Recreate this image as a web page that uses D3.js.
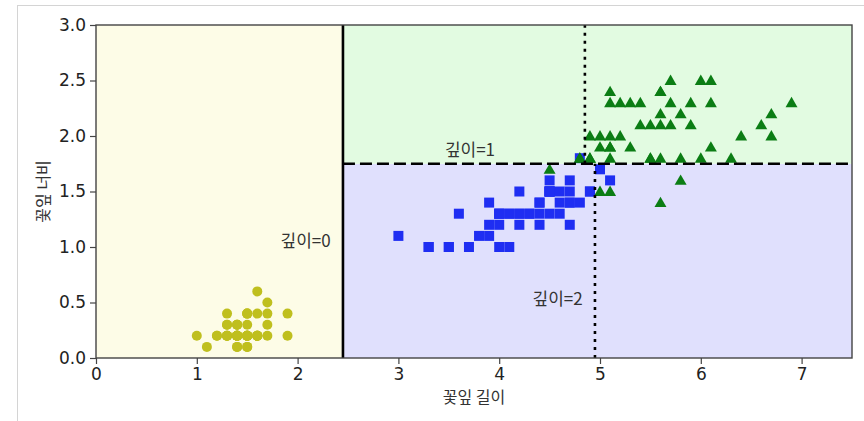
<!DOCTYPE html>
<html>
<head>
<meta charset="utf-8">
<script src="https://cdn.jsdelivr.net/npm/d3@7"></script>
<style>
  html, body { margin: 0; padding: 0; background: #fff; }
  svg { display: block; }
</style>
</head>
<body>
<svg id="chart" width="864" height="421"></svg>
<script>
// Iris petal measurements (length, width) per species
const setosaLength = [1.4,1.4,1.3,1.5,1.4,1.7,1.4,1.5,1.4,1.5,1.5,1.6,1.4,1.1,1.2,1.5,1.3,1.4,1.7,1.5,1.7,1.5,1.0,1.7,1.9,1.6,1.6,1.5,1.4,1.6,1.6,1.5,1.5,1.4,1.5,1.2,1.3,1.4,1.3,1.5,1.3,1.3,1.3,1.6,1.9,1.4,1.6,1.4,1.5,1.4];
const setosaWidth  = [0.2,0.2,0.2,0.2,0.2,0.4,0.3,0.2,0.2,0.1,0.2,0.2,0.1,0.1,0.2,0.4,0.4,0.3,0.3,0.3,0.2,0.4,0.2,0.5,0.2,0.2,0.4,0.2,0.2,0.2,0.2,0.4,0.1,0.2,0.2,0.2,0.2,0.1,0.2,0.2,0.3,0.3,0.2,0.6,0.4,0.3,0.2,0.2,0.2,0.2];
const versicolorLength = [4.7,4.5,4.9,4.0,4.6,4.5,4.7,3.3,4.6,3.9,3.5,4.2,4.0,4.7,3.6,4.4,4.5,4.1,4.5,3.9,4.8,4.0,4.9,4.7,4.3,4.4,4.8,5.0,4.5,3.5,3.8,3.7,3.9,5.1,4.5,4.5,4.7,4.4,4.1,4.0,4.4,4.6,4.0,3.3,4.2,4.2,4.2,4.3,3.0,4.1];
const versicolorWidth  = [1.4,1.5,1.5,1.3,1.5,1.3,1.6,1.0,1.3,1.4,1.0,1.5,1.0,1.4,1.3,1.4,1.5,1.0,1.5,1.1,1.8,1.3,1.5,1.2,1.3,1.4,1.4,1.7,1.5,1.0,1.1,1.0,1.2,1.6,1.5,1.6,1.5,1.3,1.3,1.3,1.2,1.4,1.2,1.0,1.3,1.2,1.3,1.3,1.1,1.3];
const virginicaLength = [6.0,5.1,5.9,5.6,5.8,6.6,4.5,6.3,5.8,6.1,5.1,5.3,5.5,5.0,5.1,5.3,5.5,6.7,6.9,5.0,5.7,4.9,6.7,4.9,5.7,6.0,4.8,4.9,5.6,5.8,6.1,6.4,5.6,5.1,5.6,6.1,5.6,5.5,4.8,5.4,5.6,5.1,5.1,5.9,5.7,5.2,5.0,5.2,5.4,5.1];
const virginicaWidth  = [2.5,1.9,2.1,1.8,2.2,2.1,1.7,1.8,1.8,2.5,2.0,1.9,2.1,2.0,2.4,2.3,1.8,2.2,2.3,1.5,2.3,2.0,2.0,1.8,2.1,1.8,1.8,1.8,2.1,1.6,1.9,2.0,2.2,1.5,1.4,2.3,2.4,1.8,1.8,2.1,2.4,2.3,1.9,2.3,2.5,2.3,1.9,2.0,2.3,1.8];

// Decision tree split thresholds
const rootSplitLength = 2.45;   // depth 0
const leftSplitWidth = 1.75;    // depth 1
const lowSplitLength = 4.95;    // depth 2 (below 1.75)
const highSplitLength = 4.85;   // depth 2 (above 1.75)

const xTicks = [0,1,2,3,4,5,6,7];
const yTicks = [0,0.5,1.0,1.5,2.0,2.5,3.0];
const xDomain = [0, 7.5];
const yDomain = [0, 3];

const depthLabels = [
  {text: "깊이=0", x: 2.08, y: 1.0},
  {text: "깊이=1", x: 3.71, y: 1.82},
  {text: "깊이=2", x: 4.58, y: 0.48}
];

const svg = d3.select("#chart");
const plot = {left: 96, right: 852, top: 25, bottom: 358};
const x = d3.scaleLinear().domain(xDomain).range([plot.left, plot.right]);
const y = d3.scaleLinear().domain(yDomain).range([plot.bottom, plot.top]);

// page frame lines
svg.append("line").attr("x1", 17).attr("x2", 864).attr("y1", 5.5).attr("y2", 5.5)
  .attr("stroke", "#d4d4d4").attr("stroke-width", 1);
svg.append("line").attr("x1", 17.5).attr("x2", 17.5).attr("y1", 5).attr("y2", 421)
  .attr("stroke", "#d4d4d4").attr("stroke-width", 1);

// predicted class regions
const regions = [
  {x0: 0, x1: rootSplitLength, y0: 0, y1: 3, fill: "#fdfce7"},
  {x0: rootSplitLength, x1: 7.5, y0: 0, y1: leftSplitWidth, fill: "#e0e0fd"},
  {x0: rootSplitLength, x1: 7.5, y0: leftSplitWidth, y1: 3, fill: "#e2fbe1"}
];
svg.append("g").selectAll("rect").data(regions).join("rect")
  .attr("x", d => x(d.x0)).attr("y", d => y(d.y1))
  .attr("width", d => x(d.x1) - x(d.x0)).attr("height", d => y(d.y0) - y(d.y1))
  .attr("fill", d => d.fill);

// scatter points
const zip = (a, b) => a.map((v, i) => [v, b[i]]);
const setosa = zip(setosaLength, setosaWidth);
const versicolor = zip(versicolorLength, versicolorWidth);
const virginica = zip(virginicaLength, virginicaWidth);

svg.append("g").selectAll("circle").data(setosa).join("circle")
  .attr("cx", d => x(d[0])).attr("cy", d => y(d[1])).attr("r", 5)
  .attr("fill", "#bfbf1e");

const sq = 10;
svg.append("g").selectAll("rect").data(versicolor).join("rect")
  .attr("x", d => x(d[0]) - sq / 2).attr("y", d => y(d[1]) - sq / 2)
  .attr("width", sq).attr("height", sq)
  .attr("fill", "#1f2ef2");

const tri = d3.symbol().type(d3.symbolTriangle).size(62);
svg.append("g").selectAll("path").data(virginica).join("path")
  .attr("transform", d => `translate(${x(d[0])},${y(d[1]) + 1})`)
  .attr("d", tri)
  .attr("fill", "#0b7d14");

// decision boundaries
const lines = svg.append("g").attr("fill", "none").attr("stroke", "#000").attr("stroke-width", 2.6);
lines.append("line")
  .attr("x1", x(rootSplitLength)).attr("x2", x(rootSplitLength))
  .attr("y1", y(0)).attr("y2", y(3));
lines.append("line")
  .attr("x1", x(rootSplitLength)).attr("x2", x(7.5))
  .attr("y1", y(leftSplitWidth)).attr("y2", y(leftSplitWidth))
  .attr("stroke-dasharray", "12,5");
lines.append("line")
  .attr("x1", x(lowSplitLength)).attr("x2", x(lowSplitLength))
  .attr("y1", y(0)).attr("y2", y(leftSplitWidth))
  .attr("stroke-dasharray", "3,5");
lines.append("line")
  .attr("x1", x(highSplitLength)).attr("x2", x(highSplitLength))
  .attr("y1", y(leftSplitWidth)).attr("y2", y(3))
  .attr("stroke-dasharray", "3,5");

// depth labels
svg.append("g").selectAll("text").data(depthLabels).join("text")
  .attr("x", d => x(d.x)).attr("y", d => y(d.y))
  .attr("text-anchor", "middle")
  .attr("font-family", "'Noto Sans CJK KR', 'DejaVu Sans', sans-serif")
  .attr("font-size", 17)
  .attr("fill", "#333")
  .text(d => d.text);

// axes
const axisColor = "#444";
const xAxis = svg.append("g").attr("transform", `translate(0,${plot.bottom})`)
  .call(d3.axisBottom(x).tickValues(xTicks).tickFormat(d3.format("d")).tickSize(6).tickPadding(4).tickSizeOuter(0));
const yAxis = svg.append("g").attr("transform", `translate(${plot.left},0)`)
  .call(d3.axisLeft(y).tickValues(yTicks).tickFormat(d3.format(".1f")).tickSize(6).tickPadding(4).tickSizeOuter(0));
[xAxis, yAxis].forEach(g => {
  g.select(".domain").remove();
  g.selectAll(".tick line").attr("stroke", axisColor).attr("stroke-width", 1.2);
  g.selectAll(".tick text").attr("font-family", "'DejaVu Sans', sans-serif")
    .attr("font-size", 17).attr("fill", "#222");
});

// plot frame
svg.append("rect")
  .attr("x", plot.left).attr("y", plot.top)
  .attr("width", plot.right - plot.left).attr("height", plot.bottom - plot.top)
  .attr("fill", "none").attr("stroke", axisColor).attr("stroke-width", 1.4);

// axis titles
svg.append("text")
  .attr("x", (plot.left + plot.right) / 2).attr("y", 403)
  .attr("text-anchor", "middle")
  .attr("font-family", "'Noto Sans CJK KR', sans-serif").attr("font-size", 16).attr("fill", "#333")
  .text("꽃잎 길이");
svg.append("text")
  .attr("transform", `translate(49,${(plot.top + plot.bottom) / 2}) rotate(-90)`)
  .attr("text-anchor", "middle")
  .attr("font-family", "'Noto Sans CJK KR', sans-serif").attr("font-size", 16).attr("fill", "#333")
  .text("꽃잎 너비");
</script>
</body>
</html>
